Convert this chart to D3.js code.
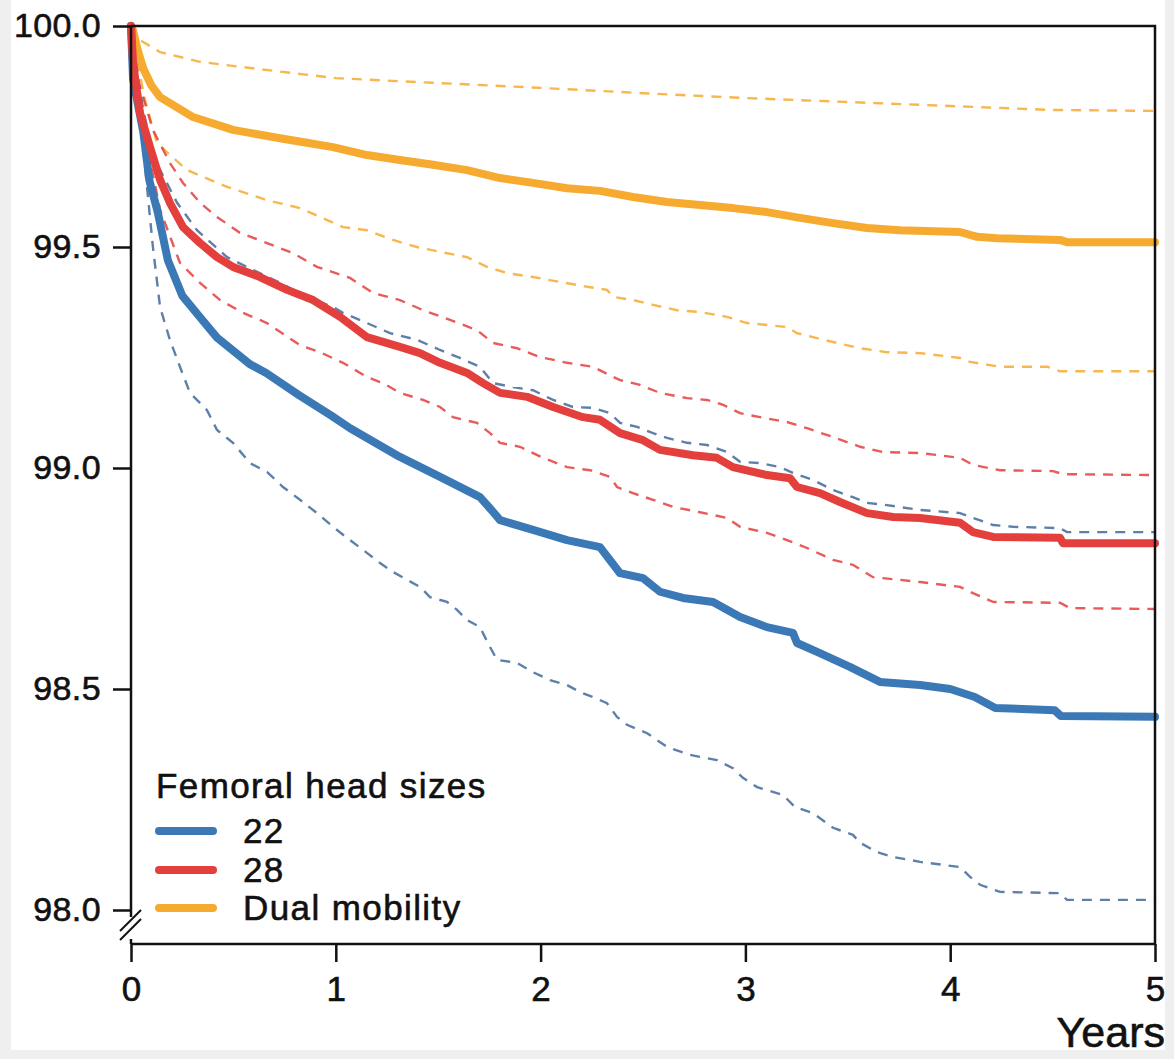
<!DOCTYPE html>
<html>
<head>
<meta charset="utf-8">
<script src="https://cdn.jsdelivr.net/npm/d3@7"></script>
<style>
    body { margin: 0; background: #efefef; }
    svg { display: block; }
    text { font-family: "Liberation Sans", Arial, Helvetica, sans-serif; fill: #111; stroke: #111; stroke-width: 0.6px; }
</style>
</head>
<body>
<div id="chart"></div>
<script>

// x ticks (years) and y ticks (survival %)
var yearTicks = [0, 1, 2, 3, 4, 5];
var survivalTicks = [98.0, 98.5, 99.0, 99.5, 100.0];

var headSizes = ["22", "28", "Dual mobility"];
var headColors = ["#3b78b6", "#e3403d", "#f6aa2f"];

// survival curves, [years, survival %]
var dmMain = [[0,100],[0.01,99.99],[0.03,99.95],[0.059,99.905],[0.1,99.865],[0.142,99.839],[0.303,99.794],[0.498,99.765],[0.742,99.745],[0.83,99.738],
    [0.986,99.726],[1.152,99.708],[1.313,99.697],[1.475,99.686],[1.641,99.674],[1.802,99.656],[1.963,99.645],[2.129,99.633],
    [2.29,99.627],[2.451,99.613],[2.617,99.602],[2.778,99.595],[2.939,99.588],[3.105,99.579],[3.267,99.566],[3.428,99.554],
    [3.594,99.543],[3.755,99.538],[4.048,99.534],[4.131,99.523],[4.229,99.52],[4.536,99.516],[4.57,99.511],[5,99.511]];

var dmHigh = [[0,100],[0.044,99.968],[0.142,99.941],[0.337,99.919],[0.581,99.905],[1.0,99.882],[1.5,99.871],[2.0,99.86],
    [2.5,99.848],[3.0,99.837],[3.5,99.828],[4.0,99.819],[4.5,99.81],[5,99.808]];

var dmLow = [[0,100],[0.03,99.923],[0.068,99.833],[0.127,99.735],[0.273,99.674],[0.469,99.636],[0.664,99.606],[0.825,99.588],
    [0.923,99.568],[1.035,99.545],[1.152,99.538],[1.279,99.516],[1.396,99.5],[1.509,99.489],[1.641,99.477],[1.738,99.455],
    [1.836,99.441],[1.963,99.432],[2.095,99.421],[2.227,99.41],[2.324,99.403],[2.354,99.387],[2.451,99.38],[2.549,99.369],
    [2.666,99.357],[2.778,99.353],[2.91,99.342],[3.008,99.328],[3.203,99.319],[3.252,99.305],[3.33,99.296],[3.428,99.285],
    [3.56,99.271],[3.691,99.262],[3.853,99.26],[4.048,99.249],[4.097,99.24],[4.243,99.229],[4.473,99.229],[4.536,99.219],[5,99.219]];

var h28Main = [[0,100],[0.01,99.916],[0.044,99.803],[0.093,99.726],[0.142,99.652],[0.19,99.6],[0.254,99.545],[0.337,99.509],
    [0.42,99.477],[0.498,99.455],[0.63,99.432],[0.762,99.403],[0.889,99.38],[1.021,99.342],[1.152,99.296],[1.313,99.274],
    [1.411,99.26],[1.509,99.238],[1.641,99.215],[1.719,99.192],[1.802,99.17],[1.934,99.161],[2.061,99.138],[2.207,99.115],
    [2.29,99.109],[2.388,99.079],[2.5,99.063],[2.583,99.041],[2.744,99.029],[2.861,99.023],[2.939,99.002],[3.105,98.984],
    [3.218,98.977],[3.252,98.957],[3.364,98.943],[3.462,98.923],[3.594,98.898],[3.721,98.889],[3.853,98.887],[4.048,98.876],
    [4.111,98.855],[4.209,98.844],[4.536,98.842],[4.551,98.83],[5,98.83]];

var h28High = [[0,100],[0.02,99.9],[0.107,99.765],[0.19,99.69],[0.254,99.645],[0.337,99.6],[0.42,99.568],[0.532,99.532],
    [0.664,99.509],[0.791,99.486],[0.908,99.455],[1.069,99.43],[1.182,99.396],[1.313,99.38],[1.426,99.357],[1.558,99.335],
    [1.689,99.312],[1.768,99.283],[1.885,99.271],[1.997,99.251],[2.129,99.238],[2.256,99.229],[2.354,99.206],[2.388,99.199],
    [2.485,99.188],[2.583,99.17],[2.715,99.158],[2.813,99.154],[2.891,99.143],[2.974,99.124],[3.071,99.115],[3.203,99.104],
    [3.301,99.09],[3.428,99.07],[3.56,99.048],[3.672,99.036],[3.853,99.034],[4.048,99.023],[4.111,99.007],[4.243,98.995],
    [4.502,98.993],[4.551,98.986],[5,98.984]];

var h28Low = [[0,100],[0.044,99.855],[0.093,99.697],[0.142,99.584],[0.239,99.464],[0.337,99.419],[0.435,99.38],[0.547,99.351],
    [0.664,99.328],[0.825,99.278],[0.923,99.262],[1.035,99.238],[1.152,99.206],[1.23,99.192],[1.313,99.17],[1.426,99.154],
    [1.509,99.138],[1.572,99.115],[1.689,99.102],[1.753,99.079],[1.802,99.057],[1.899,99.048],[2.012,99.023],[2.129,99.002],
    [2.241,98.995],[2.339,98.98],[2.373,98.957],[2.451,98.943],[2.549,98.928],[2.646,98.912],[2.778,98.9],[2.91,98.887],
    [2.974,98.867],[3.105,98.853],[3.203,98.837],[3.301,98.819],[3.428,98.792],[3.525,98.781],[3.623,98.753],[3.755,98.747],
    [3.853,98.742],[4.048,98.731],[4.111,98.717],[4.209,98.697],[4.536,98.695],[4.585,98.683],[5,98.681]];

var h22Main = [[0,100],[0.01,99.88],[0.06,99.76],[0.09,99.65],[0.13,99.58],[0.18,99.47],[0.25,99.39],[0.33,99.345],
    [0.42,99.295],[0.5,99.265],[0.58,99.235],[0.66,99.215],[0.82,99.165],[0.98,99.118],[1.07,99.09],[1.313,99.025],
    [1.509,98.98],[1.704,98.934],[1.76,98.905],[1.802,98.882],[1.963,98.86],[2.129,98.837],[2.29,98.821],[2.388,98.762],[2.5,98.751],
    [2.583,98.72],[2.695,98.706],[2.842,98.697],[2.974,98.663],[3.105,98.64],[3.232,98.627],[3.252,98.604],[3.35,98.584],
    [3.51,98.55],[3.657,98.516],[3.853,98.509],[4.0,98.5],[4.12,98.482],[4.22,98.457],[4.51,98.452],[4.54,98.439],[5,98.437]];

var h22High = [[0,100],[0.02,99.92],[0.059,99.81],[0.117,99.697],[0.225,99.6],[0.322,99.538],[0.469,99.477],[0.596,99.448],
    [0.728,99.419],[0.859,99.387],[0.986,99.364],[1.035,99.351],[1.152,99.328],[1.265,99.305],[1.396,99.29],[1.509,99.267],
    [1.606,99.249],[1.704,99.229],[1.768,99.192],[1.865,99.183],[1.963,99.176],[2.061,99.154],[2.158,99.138],[2.256,99.136],
    [2.339,99.124],[2.388,99.102],[2.471,99.093],[2.549,99.079],[2.617,99.068],[2.715,99.057],[2.813,99.052],[2.91,99.036],
    [2.974,99.014],[3.071,99.011],[3.169,99.002],[3.232,98.989],[3.33,98.973],[3.428,98.95],[3.525,98.934],[3.594,98.921],
    [3.691,98.916],[3.853,98.905],[4.048,98.898],[4.111,98.887],[4.209,98.871],[4.307,98.867],[4.536,98.864],[4.57,98.855],[5,98.855]];

var h22Low = [[0,100],[0.029,99.839],[0.059,99.726],[0.107,99.5],[0.142,99.364],[0.19,99.29],[0.239,99.229],[0.288,99.17],
    [0.371,99.131],[0.42,99.086],[0.498,99.057],[0.581,99.011],[0.664,98.991],[0.742,98.957],[0.825,98.928],[0.908,98.898],
    [0.986,98.867],[1.055,98.842],[1.152,98.808],[1.216,98.785],[1.279,98.765],[1.348,98.747],[1.411,98.731],[1.46,98.708],
    [1.543,98.697],[1.592,98.679],[1.641,98.656],[1.704,98.64],[1.753,98.595],[1.787,98.566],[1.885,98.559],[1.963,98.538],
    [2.046,98.52],[2.129,98.509],[2.192,98.493],[2.256,98.482],[2.324,98.468],[2.373,98.437],[2.422,98.419],[2.52,98.4],
    [2.617,98.369],[2.73,98.351],[2.861,98.339],[2.939,98.321],[2.988,98.299],[3.057,98.278],[3.184,98.26],[3.242,98.233],
    [3.33,98.219],[3.428,98.186],[3.525,98.17],[3.56,98.152],[3.643,98.131],[3.721,98.12],[3.853,98.109],[4.048,98.097],
    [4.097,98.075],[4.146,98.057],[4.243,98.041],[4.536,98.038],[4.57,98.023],[5,98.023]];


var width = 1174, height = 1059;

var svg = d3.select("#chart").append("svg")
    .attr("width", width)
    .attr("height", height);

// white page with a faint grey edge, like the scan
svg.append("rect")
    .attr("x", 11).attr("y", 0)
    .attr("width", 1154).attr("height", 1050)
    .attr("fill", "#fff");

var x = d3.scaleLinear().domain([0, 5]).range([131, 1155]);
var y = d3.scaleLinear().domain([98, 100]).range([910, 26]);

var line = d3.line()
    .x(function(d) { return x(d[0]); })
    .y(function(d) { return y(d[1]); });

// confidence bands (dashed), then the main curves
var dashed = [
    {data: dmHigh, color: headColors[2]}, {data: dmLow, color: headColors[2]},
    {data: h28High, color: headColors[1]}, {data: h28Low, color: headColors[1]},
    {data: h22High, color: "#41699a"}, {data: h22Low, color: "#41699a"}
];

svg.selectAll(".ci")
    .data(dashed)
    .enter().append("path")
    .attr("class", "ci")
    .attr("d", function(d) { return line(d.data); })
    .attr("fill", "none")
    .attr("stroke", function(d) { return d.color; })
    .attr("stroke-width", 2.4)
    .attr("stroke-opacity", 0.85)
    .attr("stroke-dasharray", "10,8");

var solid = [
    {data: dmMain, color: headColors[2]},
    {data: h22Main, color: headColors[0]},
    {data: h28Main, color: headColors[1]}
];

svg.selectAll(".km")
    .data(solid)
    .enter().append("path")
    .attr("class", "km")
    .attr("d", function(d) { return line(d.data); })
    .attr("fill", "none")
    .attr("stroke", function(d) { return d.color; })
    .attr("stroke-width", 8)
    .attr("stroke-linejoin", "round")
    .attr("stroke-linecap", "round");

// frame: top, right, bottom
svg.append("path")
    .attr("d", "M" + x(0) + "," + y(100) + "H" + x(5) + "V944H" + x(0))
    .attr("fill", "none")
    .attr("stroke", "#111")
    .attr("stroke-width", 2.5);

// y axis line with a break below 98.0
svg.append("line")
    .attr("x1", x(0)).attr("x2", x(0))
    .attr("y1", y(100)).attr("y2", 917)
    .attr("stroke", "#111").attr("stroke-width", 2.5);
svg.append("line")
    .attr("x1", x(0)).attr("x2", x(0))
    .attr("y1", 939).attr("y2", 944)
    .attr("stroke", "#111").attr("stroke-width", 2.5);
svg.selectAll(".brk")
    .data([0, 9])
    .enter().append("line")
    .attr("class", "brk")
    .attr("x1", 120).attr("y1", function(d) { return 931 + d; })
    .attr("x2", 141).attr("y2", function(d) { return 910 + d; })
    .attr("stroke", "#111").attr("stroke-width", 2);

// add the y Axis
var yAxis = svg.append("g")
    .attr("transform", "translate(" + x(0) + ",0)")
    .call(d3.axisLeft(y).tickValues(survivalTicks).tickFormat(d3.format(".1f")).tickSize(18).tickPadding(12));
yAxis.select(".domain").remove();
yAxis.selectAll("line").attr("stroke", "#111").attr("stroke-width", 2.5);
yAxis.selectAll("text")
    .style("font-size", "34px")
    .style("letter-spacing", "0.4px")
    .attr("fill", "#111");

// add the x Axis
var xAxis = svg.append("g")
    .attr("transform", "translate(0,944)")
    .call(d3.axisBottom(x).tickValues(yearTicks).tickFormat(d3.format("d")).tickSize(18).tickPadding(14));
xAxis.select(".domain").remove();
xAxis.selectAll("line").attr("stroke", "#111").attr("stroke-width", 2.5);
xAxis.selectAll("text")
    .style("font-size", "35px")
    .attr("fill", "#111");

svg.append("text")
    .attr("x", 1165)
    .attr("y", 1047)
    .attr("text-anchor", "end")
    .style("font-size", "43px")
    .text("Years");

// Legend
svg.append("text")
    .attr("x", 156)
    .attr("y", 798)
    .style("font-size", "35px")
    .style("letter-spacing", "1.4px")
    .text("Femoral head sizes");

var legend = svg.selectAll(".legend")
    .data(headSizes)
    .enter().append("g")
    .attr("class", "legend")
    .attr("transform", function(d, i) { return "translate(0," + [831, 870, 908][i] + ")"; });

legend.append("line")
    .attr("x1", 159).attr("x2", 213)
    .attr("stroke", function(d, i) { return headColors[i]; })
    .attr("stroke-width", 8)
    .attr("stroke-linecap", "round");

legend.append("text")
    .attr("x", 243)
    .attr("y", 12)
    .style("font-size", "35px")
    .style("letter-spacing", "1.4px")
    .text(function(d) { return d; });

</script>
</body>
</html>
